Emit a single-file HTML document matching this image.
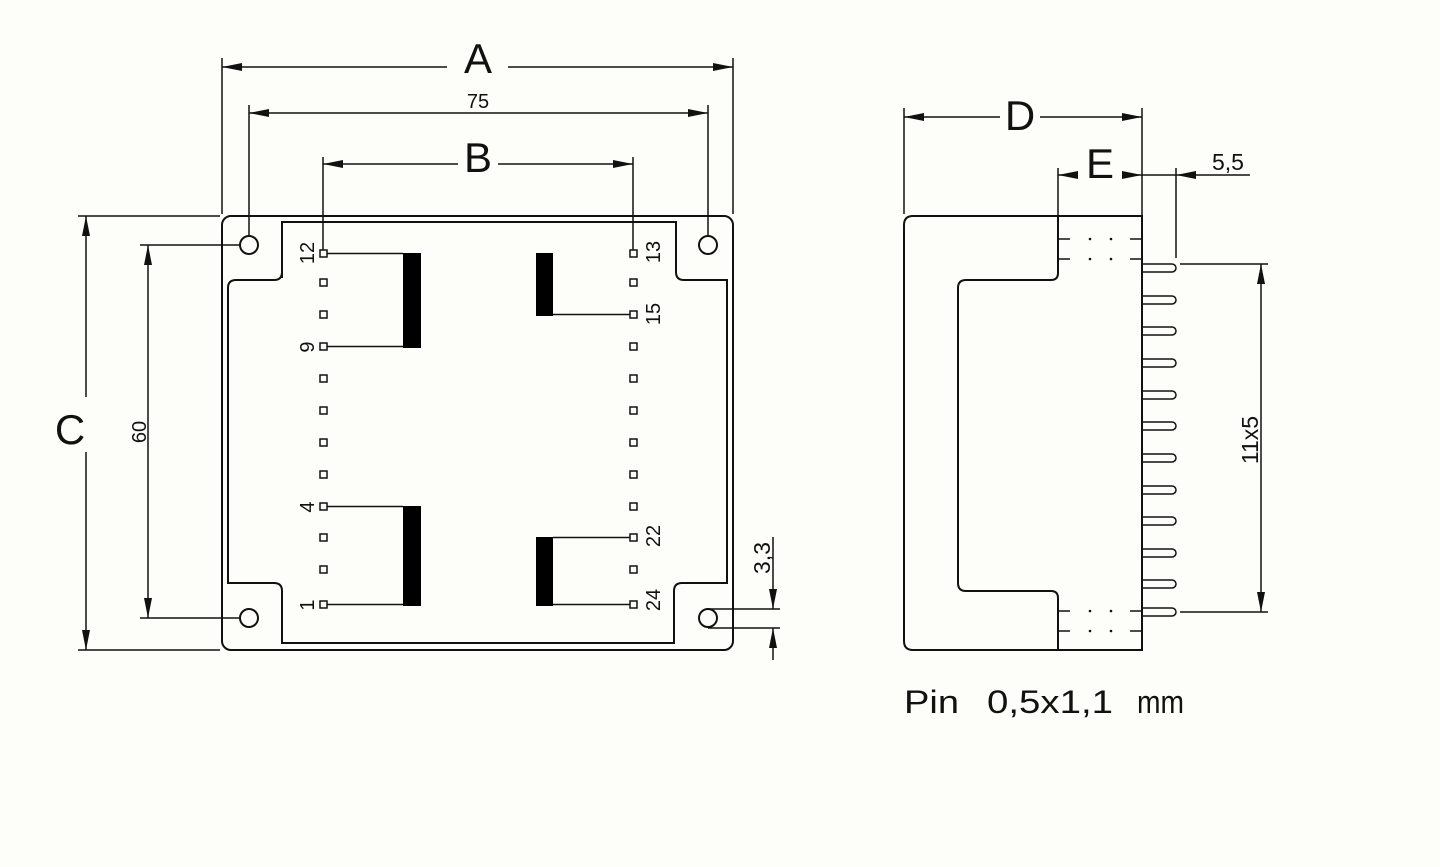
<!DOCTYPE html>
<html><head><meta charset="utf-8"><style>
html,body{margin:0;padding:0;background:#fdfdf9;}
svg{display:block;}
text{font-family:"Liberation Sans",sans-serif;fill:#111;}
</style></head><body>
<svg width="1440" height="867" viewBox="0 0 1440 867" xmlns="http://www.w3.org/2000/svg">
<defs>
<marker id="ar" viewBox="0 0 20 8" refX="20" refY="4" markerWidth="20" markerHeight="8" markerUnits="userSpaceOnUse" orient="auto-start-reverse"><path d="M0,0 L20,4 L0,8 Z" fill="#111"/></marker>
</defs>
<rect width="1440" height="867" fill="#fdfdf9"/>
<g stroke="#111" stroke-width="2" fill="none">
<rect x="222" y="216" width="511" height="434" rx="9"/>
<path d="M282,278 V222 H676 V272 Q676,280 684,280 H727 V583 H682 Q674,583 674,591 V643 H282 V591 Q282,583 274,583 H228 V288 Q228,280 236,280 H274 Q282,280 282,272"/>
<circle cx="249" cy="245" r="9"/>
<circle cx="708" cy="245" r="9"/>
<circle cx="249" cy="618" r="9"/>
<circle cx="708" cy="618" r="9"/>
</g>
<g stroke="#111" stroke-width="1.5" fill="none">
<rect x="320" y="250" width="7" height="7"/><rect x="320" y="279" width="7" height="7"/><rect x="320" y="311" width="7" height="7"/><rect x="320" y="343" width="7" height="7"/><rect x="320" y="375" width="7" height="7"/><rect x="320" y="407" width="7" height="7"/><rect x="320" y="439" width="7" height="7"/><rect x="320" y="471" width="7" height="7"/><rect x="320" y="503" width="7" height="7"/><rect x="320" y="534" width="7" height="7"/><rect x="320" y="566" width="7" height="7"/><rect x="320" y="601" width="7" height="7"/>
<rect x="630" y="250" width="7" height="7"/><rect x="630" y="279" width="7" height="7"/><rect x="630" y="311" width="7" height="7"/><rect x="630" y="343" width="7" height="7"/><rect x="630" y="375" width="7" height="7"/><rect x="630" y="407" width="7" height="7"/><rect x="630" y="439" width="7" height="7"/><rect x="630" y="471" width="7" height="7"/><rect x="630" y="503" width="7" height="7"/><rect x="630" y="534" width="7" height="7"/><rect x="630" y="566" width="7" height="7"/><rect x="630" y="601" width="7" height="7"/>
<path d="M327,253.5 H403 M327,346.5 H403 M327,506.5 H403 M327,604.5 H403 M553,314.5 H630 M553,537.5 H630 M553,604.5 H630"/>
</g>
<g fill="#000">
<rect x="403" y="253" width="18" height="95"/>
<rect x="403" y="506" width="18" height="100"/>
<rect x="536" y="253" width="17" height="63"/>
<rect x="536" y="537" width="17" height="69"/>
</g>
<g font-size="20">
<text transform="translate(314,253) rotate(-90)" text-anchor="middle">12</text>
<text transform="translate(314,347) rotate(-90)" text-anchor="middle">9</text>
<text transform="translate(314,507) rotate(-90)" text-anchor="middle">4</text>
<text transform="translate(314,605) rotate(-90)" text-anchor="middle">1</text>
<text transform="translate(660,252) rotate(-90)" text-anchor="middle">13</text>
<text transform="translate(660,314) rotate(-90)" text-anchor="middle">15</text>
<text transform="translate(660,536) rotate(-90)" text-anchor="middle">22</text>
<text transform="translate(660,600) rotate(-90)" text-anchor="middle">24</text>
<text transform="translate(146,432) rotate(-90)" text-anchor="middle">60</text>
<text x="478" y="108" text-anchor="middle">75</text>
</g>
<g font-size="23">
<text transform="translate(770,558) rotate(-90)" text-anchor="middle">3,3</text>
<text x="1228" y="170" text-anchor="middle">5,5</text>
<text transform="translate(1258,440) rotate(-90)" text-anchor="middle">11x5</text>
</g>
<g font-size="42">
<text x="478" y="73" text-anchor="middle">A</text>
<text x="478" y="172" text-anchor="middle">B</text>
<text x="70" y="444" text-anchor="middle">C</text>
<text x="1020" y="130" text-anchor="middle">D</text>
<text x="1100" y="178" text-anchor="middle">E</text>
</g>
<g stroke="#111" stroke-width="1.5" fill="none">
<path d="M222,58 V214 M733,58 V214 M249,105 V236 M708,105 V236 M323,157 V250 M633,157 V250"/>
<path d="M78,216 H220 M78,650 H220 M140,245 H240 M140,618 H240"/>
<path d="M708,609 H780 M708,628 H780"/>
<path d="M222,67 H447" marker-start="url(#ar)"/>
<path d="M508,67 H733" marker-end="url(#ar)"/>
<path d="M249,113 H708" marker-start="url(#ar)" marker-end="url(#ar)"/>
<path d="M323,164 H458" marker-start="url(#ar)"/>
<path d="M498,164 H633" marker-end="url(#ar)"/>
<path d="M86,216 V397" marker-start="url(#ar)"/>
<path d="M86,452 V650" marker-end="url(#ar)"/>
<path d="M148,245 V618" marker-start="url(#ar)" marker-end="url(#ar)"/>
<path d="M773,537 V609" marker-end="url(#ar)"/>
<path d="M773,660 V628" marker-end="url(#ar)"/>
</g>
<g stroke="#111" stroke-width="2" fill="none">
<path d="M1142,216 H913 Q904,216 904,225 V641 Q904,650 913,650 H1142 Z"/>
<path d="M1058,216 V273 Q1058,280 1051,280 H966 Q958,280 958,288 V583 Q958,591 966,591 H1051 Q1058,591 1058,598 V650"/>
</g>
<g stroke="#111" stroke-width="1.5" fill="none">
<path d="M1058,239 H1070 M1130,239 H1142 M1058,259 H1070 M1130,259 H1142 M1058,611 H1070 M1130,611 H1142 M1058,631 H1070 M1130,631 H1142"/>
<path d="M1142,264 H1172 A4,4 0 0 1 1172,272 H1142 M1142,296 H1172 A4,4 0 0 1 1172,304 H1142 M1142,327 H1172 A4,4 0 0 1 1172,335 H1142 M1142,359 H1172 A4,4 0 0 1 1172,367 H1142 M1142,391 H1172 A4,4 0 0 1 1172,399 H1142 M1142,422 H1172 A4,4 0 0 1 1172,430 H1142 M1142,454 H1172 A4,4 0 0 1 1172,462 H1142 M1142,486 H1172 A4,4 0 0 1 1172,494 H1142 M1142,517 H1172 A4,4 0 0 1 1172,525 H1142 M1142,549 H1172 A4,4 0 0 1 1172,557 H1142 M1142,580 H1172 A4,4 0 0 1 1172,588 H1142 M1142,608 H1172 A4,4 0 0 1 1172,616 H1142"/>
<path d="M904,108 V214 M1142,108 V222 M1058,168 V216 M1176,168 V258"/>
<path d="M1180,264 H1268 M1180,612 H1268"/>
<path d="M904,117 H1000" marker-start="url(#ar)"/>
<path d="M1040,117 H1142" marker-end="url(#ar)"/>
<path d="M1078,175 H1058" marker-end="url(#ar)"/>
<path d="M1122,175 H1142" marker-end="url(#ar)"/>
<path d="M1142,175 H1176"/>
<path d="M1250,175 H1176" marker-end="url(#ar)"/>
<path d="M1261,264 V612" marker-start="url(#ar)" marker-end="url(#ar)"/>
</g>
<g fill="#111">
<circle cx="1090" cy="239" r="1.3"/><circle cx="1111" cy="239" r="1.3"/><circle cx="1090" cy="259" r="1.3"/><circle cx="1111" cy="259" r="1.3"/>
<circle cx="1090" cy="611" r="1.3"/><circle cx="1111" cy="611" r="1.3"/><circle cx="1090" cy="631" r="1.3"/><circle cx="1111" cy="631" r="1.3"/>
</g>
<g font-size="32" style="font-family:'DejaVu Sans ExtraLight','DejaVu Sans','Liberation Sans',sans-serif;font-weight:200">
<text x="904" y="713" textLength="55" lengthAdjust="spacingAndGlyphs">Pin</text>
<text x="987" y="713" textLength="126" lengthAdjust="spacingAndGlyphs">0,5x1,1</text>
<text x="1137" y="713" textLength="47" lengthAdjust="spacingAndGlyphs">mm</text>
</g>
</svg>
</body></html>
